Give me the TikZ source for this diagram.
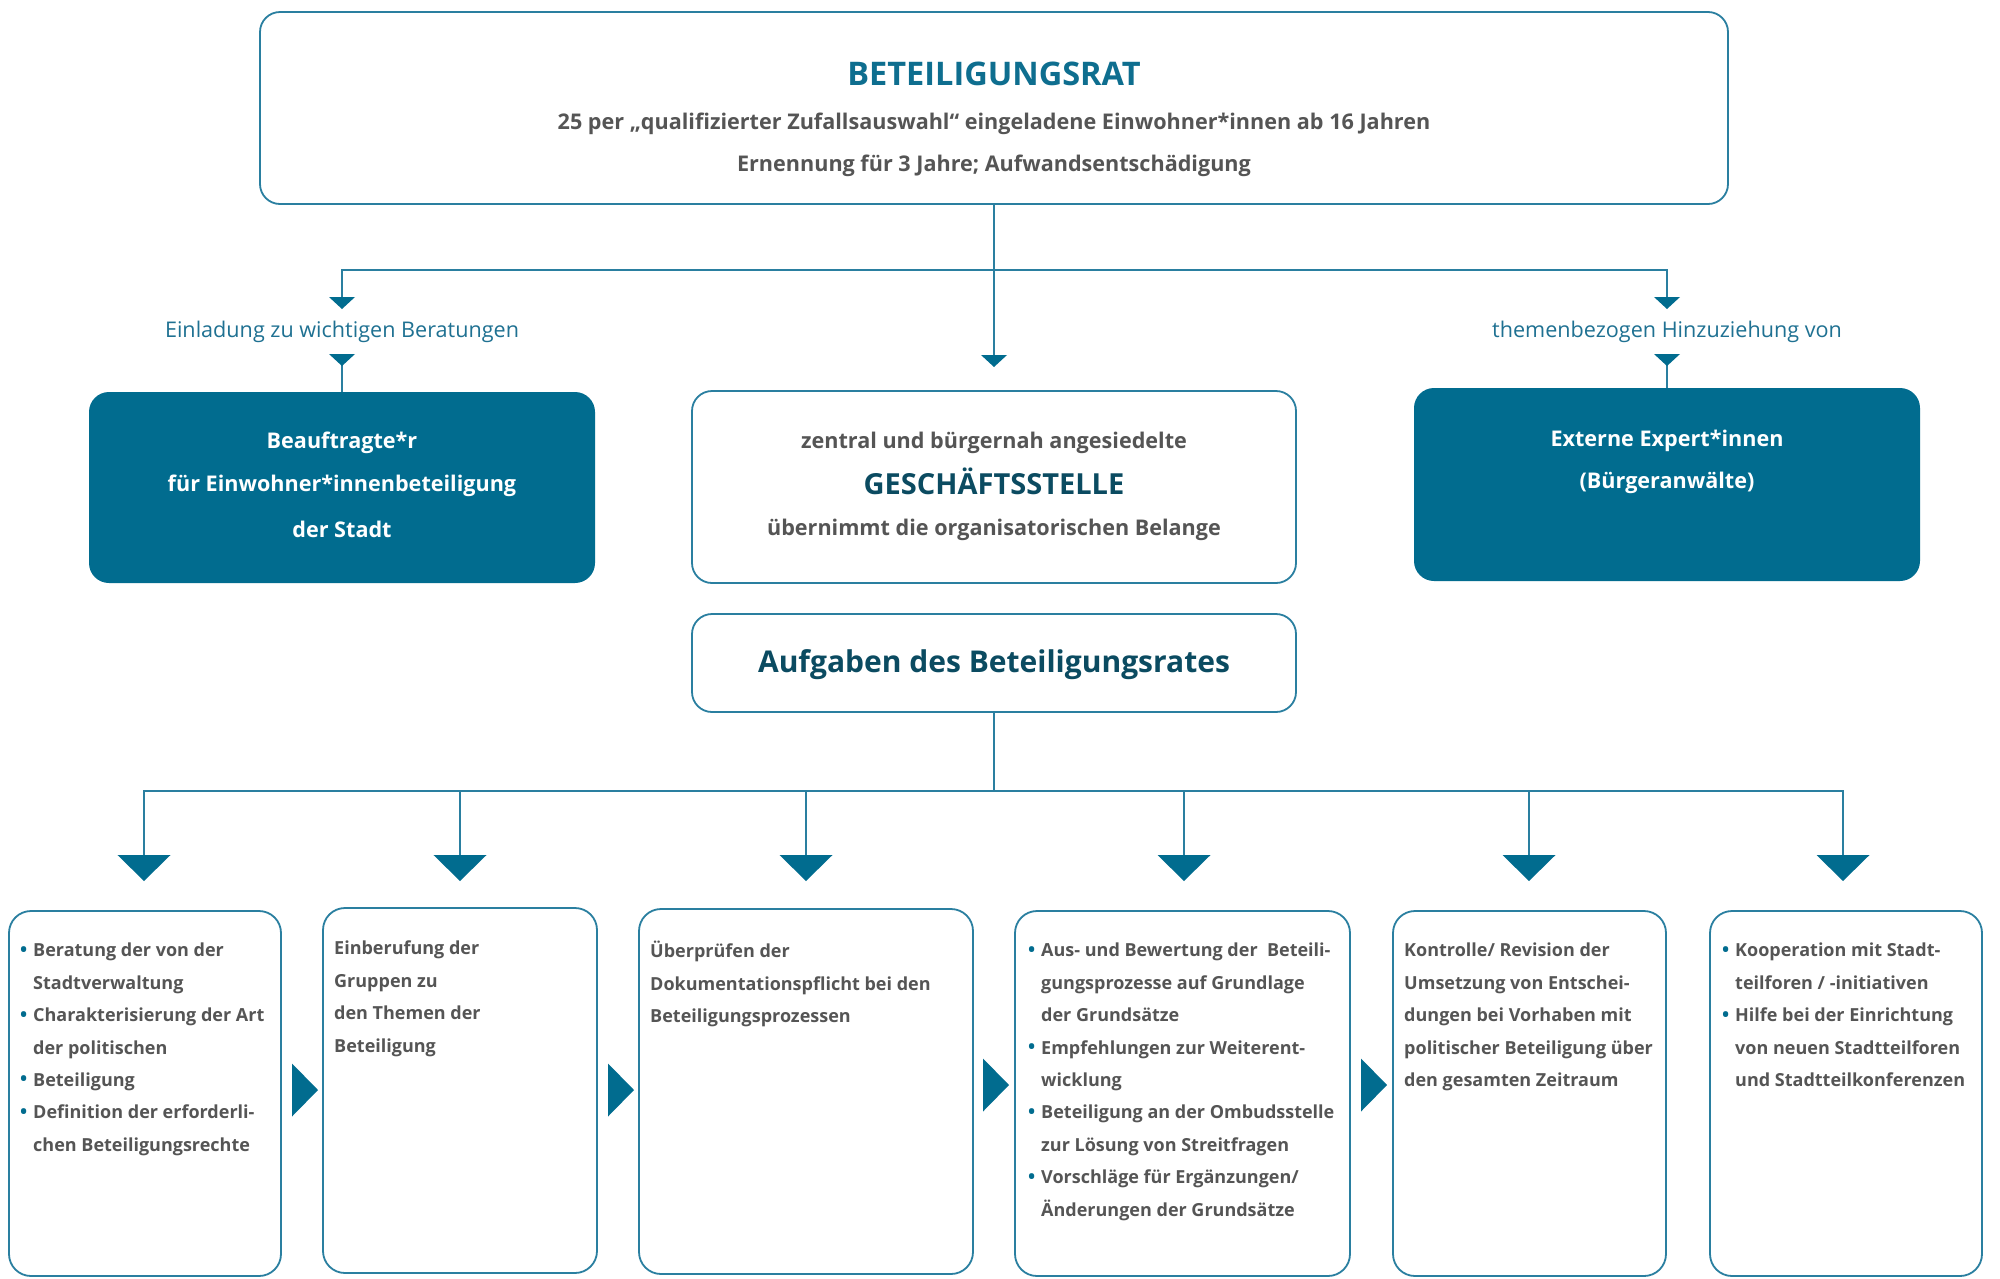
\documentclass[tikz,border=0pt]{standalone}
\usepackage{fontspec}
\setmainfont{Open Sans}
\definecolor{fillblue}{HTML}{016C8F}
\definecolor{lineblue}{HTML}{2A7FA0}
\definecolor{txtgray}{HTML}{555555}
\definecolor{darkteal}{HTML}{0B4B61}
\definecolor{titleblue}{HTML}{0E6E8F}
\definecolor{lblblue}{HTML}{1F7192}
\newcommand\bul{\makebox[13pt][l]{\raisebox{0.5pt}{\textcolor{fillblue}{\fontsize{19}{19}\selectfont •}}}}
\newcommand\ind{\hspace*{13pt}}
\newcommand\tridown[3]{\fill[tri] (#1) ++(-#2/2,0) -- ++(#2,0) -- ++(-#2/2,#3) -- cycle;}
\newcommand\triright[3]{\fill[tri] (#1) ++(0,-#3/2) -- ++(0,#3) -- ++(#2,-#3/2) -- cycle;}
\begin{document}
\begin{tikzpicture}[x=1pt,y=-1pt,
  box/.style={draw=lineblue, line width=1.8pt, rounded corners=20pt, fill=white, inner sep=0pt},
  bluebox/.style={fill=fillblue, draw=none, rounded corners=20pt, inner sep=0pt},
  conn/.style={draw=lineblue, line width=2pt},
  tri/.style={fill=fillblue},
  lbl/.style={text=lblblue, font=\fontsize{21.6}{26}\selectfont, inner sep=0pt},
  graytxt/.style={text=txtgray, font=\fontsize{21.6}{26}\selectfont\bfseries, inner sep=0pt},
  whitetxt/.style={text=white, font=\fontsize{21.6}{26}\selectfont\bfseries, inner sep=0pt},
  smalltxt/.style={text=txtgray, font=\fontsize{18}{32.4}\selectfont\bfseries, inner sep=0pt, align=left, anchor=north west},
]
\useasboundingbox (0,0) rectangle (2000,1278);
\fill[white] (0,0) rectangle (2000,1278);

% top box
\node[box, minimum width=1468pt, minimum height=192pt] (top) at (994,108) {};
\node[text=titleblue, font=\fontsize{32.5}{38}\selectfont\bfseries, inner sep=0pt] (topt1) at (994,74) {BETEILIGUNGSRAT};
\node[graytxt] (topt2) at (994,123.5) {25 per „qualifizierter Zufallsauswahl“ eingeladene Einwohner*innen ab 16 Jahren};
\node[graytxt] (topt3) at (994,165.5) {Ernennung für 3 Jahre; Aufwandsentschädigung};

% middle row
\node[bluebox, minimum width=506pt, minimum height=191pt] (beau) at (342,487.5) {};
\node[whitetxt] (beau1) at (342,443) {Beauftragte*r};
\node[whitetxt] (beau2) at (342,486) {für Einwohner*innenbeteiligung};
\node[whitetxt] (beau3) at (342,529) {der Stadt};

\node[box, minimum width=604pt, minimum height=192pt] (gesch) at (994,487) {};
\node[graytxt] (gesch1) at (994,443) {zentral und bürgernah angesiedelte};
\node[text=darkteal, font=\fontsize{29}{34}\selectfont\bfseries, inner sep=0pt] (gesch2) at (994,481) {GESCHÄFTSSTELLE};
\node[graytxt] (gesch3) at (994,530) {übernimmt die organisatorischen Belange};

\node[bluebox, minimum width=506pt, minimum height=193pt] (ext) at (1667,484.5) {};
\node[whitetxt] (ext1) at (1667,441) {Externe Expert*innen};
\node[whitetxt] (ext2) at (1667,483) {(Bürgeranwälte)};

\node[box, minimum width=604pt, minimum height=98pt] (aufg) at (994,663) {};
\node[text=darkteal, font=\fontsize{30}{35}\selectfont\bfseries, inner sep=0pt] (aufgt) at (994,665) {Aufgaben des Beteiligungsrates};

% labels
\node[lbl] (lblL) at (342,332) {Einladung zu wichtigen Beratungen};
\node[lbl] (lblR) at (1667,332) {themenbezogen Hinzuziehung von};

% top connectors
\coordinate (jTop) at (994,270);
\coordinate (lTri1) at (342,297);
\coordinate (rTri1) at (1667,297);
\coordinate (lTri2) at (342,354);
\coordinate (rTri2) at (1667,354);
\coordinate (cTri) at (994,355);
\draw[conn] (top.south) -- (cTri);
\draw[conn] (lTri1) |- (jTop) -| (rTri1);
\draw[conn] (lTri2) -- (beau.north);
\draw[conn] (rTri2) -- (ext.north);
\tridown{lTri1}{26}{12}
\tridown{rTri1}{26}{12}
\tridown{lTri2}{26}{12}
\tridown{rTri2}{26}{12}
\tridown{cTri}{26}{12}

% bottom boxes
\node[box, rounded corners=22pt, minimum width=272pt, minimum height=365pt] (b1) at (145,1093.5) {};
\node[box, rounded corners=22pt, minimum width=274pt, minimum height=365pt] (b2) at (460,1090.5) {};
\node[box, rounded corners=22pt, minimum width=334pt, minimum height=365pt] (b3) at (806,1091.5) {};
\node[box, rounded corners=22pt, minimum width=335pt, minimum height=365pt] (b4) at (1182.5,1093.5) {};
\node[box, rounded corners=22pt, minimum width=273pt, minimum height=365pt] (b5) at (1529.5,1093.5) {};
\node[box, rounded corners=22pt, minimum width=272pt, minimum height=365pt] (b6) at (1846,1093.5) {};

% bottom connectors
\coordinate (jBot) at (994,791);
\coordinate (bt1) at (144,855);
\coordinate (bt2) at (460,855);
\coordinate (bt3) at (806,855);
\coordinate (bt4) at (1184,855);
\coordinate (bt5) at (1529,855);
\coordinate (bt6) at (1843,855);
\draw[conn] (aufg.south) -- (jBot);
\draw[conn] (bt1) |- (jBot) -| (bt6);
\foreach \c in {bt2,bt3,bt4,bt5} {\draw[conn] (\c) -- (\c |- jBot);}
\foreach \c in {bt1,bt2,bt3,bt4,bt5,bt6} {\tridown{\c}{53}{26}}

\coordinate (r1) at (292,1090);
\coordinate (r2) at (608,1090);
\coordinate (r3) at (983,1085);
\coordinate (r4) at (1361,1085);
\foreach \c in {r1,r2,r3,r4} {\triright{\c}{26}{53}}

% bottom texts
\node[smalltxt] (t1) at (20,943) {\bul Beratung der von der\\ \ind Stadtverwaltung\\ \bul Charakterisierung der Art\\ \ind der politischen\\ \bul Beteiligung\\ \bul Definition der erforderli-\\ \ind chen Beteiligungsrechte};
\node[smalltxt] (t2) at (334,941) {Einberufung der\\ Gruppen zu\\ den Themen der\\ Beteiligung};
\node[smalltxt] (t3) at (650,941) {Überprüfen der\\ Dokumentationspflicht bei den\\ Beteiligungsprozessen};
\node[smalltxt] (t4) at (1028,943) {\bul Aus- und Bewertung der\ \ Beteili-\\ \ind gungsprozesse auf Grundlage\\ \ind der Grundsätze\\ \bul Empfehlungen zur Weiterent-\\ \ind wicklung\\ \bul Beteiligung an der Ombudsstelle\\ \ind zur Lösung von Streitfragen\\ \bul Vorschläge für Ergänzungen/\\ \ind Änderungen der Grundsätze};
\node[smalltxt] (t5) at (1404,943) {Kontrolle/ Revision der\\ Umsetzung von Entschei-\\ dungen bei Vorhaben mit\\ politischer Beteiligung über\\ den gesamten Zeitraum};
\node[smalltxt] (t6) at (1722,943) {\bul Kooperation mit Stadt-\\ \ind teilforen / -initiativen\\ \bul Hilfe bei der Einrichtung\\ \ind von neuen Stadtteilforen\\ \ind und Stadtteilkonferenzen};
\end{tikzpicture}
\end{document}
